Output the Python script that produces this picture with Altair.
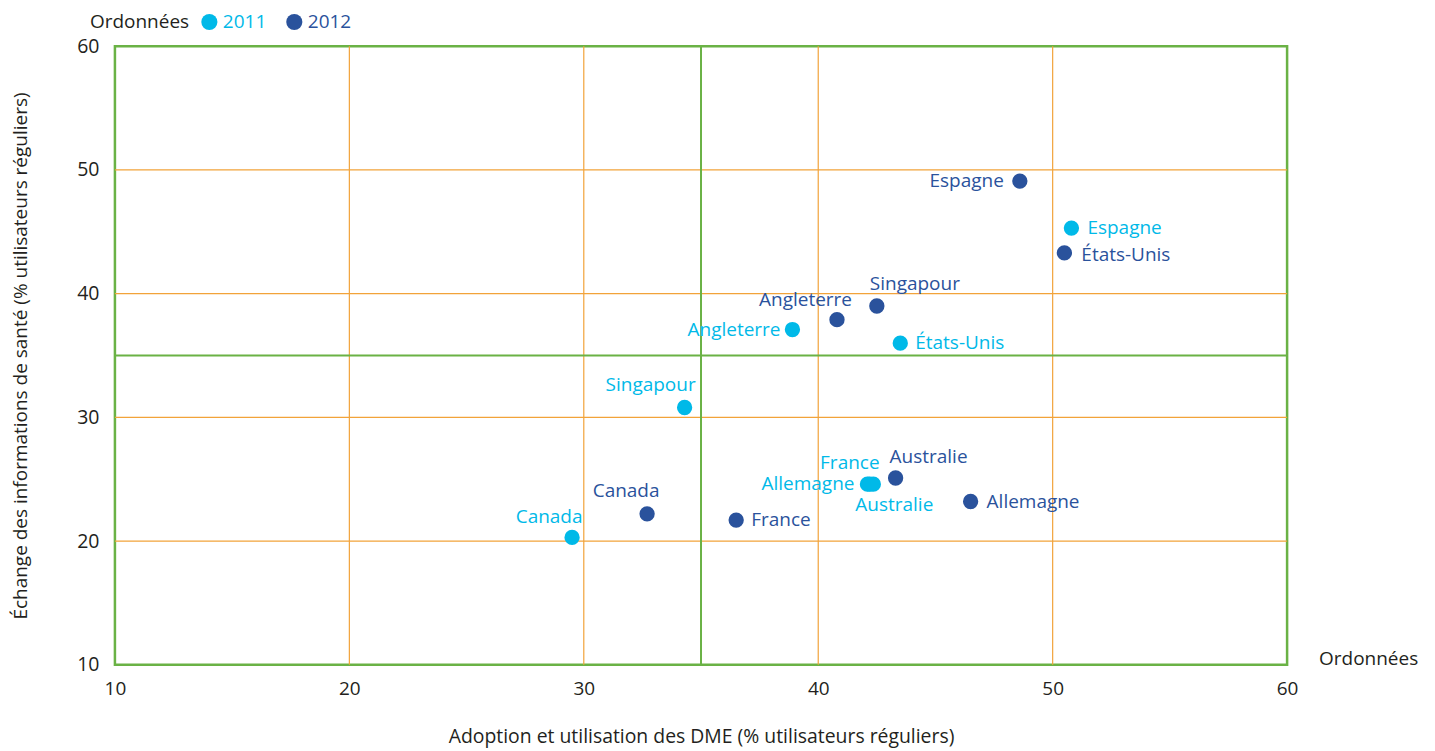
import altair as alt
import pandas as pd

countries = ["Canada", "Singapour", "Angleterre", "États-Unis", "Espagne", "France", "Allemagne", "Australie"]
x_2011 = [29.5, 34.3, 38.9, 43.5, 50.8, 42.2, 42.1, 42.35]
y_2011 = [20.3, 30.8, 37.1, 36.0, 45.3, 24.6, 24.6, 24.6]
x_2012 = [32.7, 42.5, 40.8, 50.5, 48.6, 36.5, 46.5, 43.3]
y_2012 = [22.2, 39.0, 37.9, 43.3, 49.1, 21.7, 23.2, 25.1]
years = ["2011", "2012"]
grid_vals = [20, 30, 40, 50]
split_vals = [35]
tick_vals = [10, 20, 30, 40, 50, 60]

LIGHT = "#00b9e8"
DARK = "#2a529c"
ORANGE = "#f2a33a"
GREEN = "#6ab245"
TXT = "#231f20"
FONT = "Open Sans"

# label placement (layout only): (align, dx, dy)
label_layout = {
    ("Canada", "2011"): ("center", -23, -20),
    ("Singapour", "2011"): ("center", -34, -22),
    ("Angleterre", "2011"): ("right", -12, 0),
    ("États-Unis", "2011"): ("left", 15, 0),
    ("Espagne", "2011"): ("left", 16, 0),
    ("France", "2011"): ("center", -20, -21),
    ("Allemagne", "2011"): ("right", -13, 0),
    ("Australie", "2011"): ("center", 21, 21),
    ("Canada", "2012"): ("center", -21, -23),
    ("Singapour", "2012"): ("left", -7, -22),
    ("Angleterre", "2012"): ("right", 15, -20),
    ("États-Unis", "2012"): ("left", 17, 2),
    ("Espagne", "2012"): ("right", -16, 0),
    ("France", "2012"): ("left", 15, 0),
    ("Allemagne", "2012"): ("left", 16, 1),
    ("Australie", "2012"): ("left", -6, -21),
}

rows = []
for c, xv, yv in zip(countries, x_2011, y_2011):
    rows.append({"pays": c, "annee": "2011", "x": xv, "y": yv})
for c, xv, yv in zip(countries, x_2012, y_2012):
    rows.append({"pays": c, "annee": "2012", "x": xv, "y": yv})
df = pd.DataFrame(rows)

W, H = 1173, 619
xs = alt.Scale(domain=[10, 60], nice=False, zero=False)
ys = alt.Scale(domain=[10, 60], nice=False, zero=False)
cscale = alt.Scale(domain=years, range=[LIGHT, DARK])

grid_df = pd.DataFrame({"v": grid_vals})
split_df = pd.DataFrame({"v": split_vals})

vgrid = alt.Chart(grid_df).mark_rule(color=ORANGE, strokeWidth=1.2).encode(
    x=alt.X("v:Q", scale=xs,
            axis=alt.Axis(values=tick_vals, title="Adoption et utilisation des DME (% utilisateurs réguliers)",
                          grid=False, ticks=False, domain=False, labelPadding=15, labelFontSize=19,
                          labelFlush=False,
                          labelColor=TXT, labelFont=FONT, titleFont=FONT, titleFontSize=19.4,
                          titleFontWeight="normal", titleColor=TXT, titlePadding=29)),
)
hgrid = alt.Chart(grid_df).mark_rule(color=ORANGE, strokeWidth=1.2).encode(
    y=alt.Y("v:Q", scale=ys,
            axis=alt.Axis(values=tick_vals, title="Échange des informations de santé (% utilisateurs réguliers)",
                          grid=False, ticks=False, domain=False, labelPadding=16, labelFontSize=19.5,
                          labelFlush=False,
                          labelColor=TXT, labelFont=FONT, titleFont=FONT, titleFontSize=19,
                          titleFontWeight="normal", titleColor=TXT, titlePadding=46)),
)
vsplit = alt.Chart(split_df).mark_rule(color=GREEN, strokeWidth=2).encode(x=alt.X("v:Q", scale=xs))
hsplit = alt.Chart(split_df).mark_rule(color=GREEN, strokeWidth=2).encode(y=alt.Y("v:Q", scale=ys))

points = alt.Chart(df).mark_circle(size=235, opacity=1).encode(
    x=alt.X("x:Q", scale=xs),
    y=alt.Y("y:Q", scale=ys),
    color=alt.Color("annee:N", scale=cscale,
                    legend=alt.Legend(orient="none", legendX=-25, legendY=-34, direction="horizontal",
                                      title="Ordonnées", titleOrient="left", titleFontSize=19,
                                      titleFont=FONT, titleFontWeight="normal", titleColor=TXT,
                                      titlePadding=10, titleBaseline="middle",
                                      labelFontSize=19, labelFont=FONT,
                                      labelColor=alt.ExprRef(f"datum.label == '2011' ? '{LIGHT}' : '{DARK}'"),
                                      symbolType="circle", symbolSize=260, symbolStrokeWidth=0,
                                      labelOffset=4, columnPadding=18)),
)

label_layers = []
for (c, yr), (al, dx, dy) in label_layout.items():
    label_layers.append(
        alt.Chart(df).transform_filter(
            (alt.datum.pays == c) & (alt.datum.annee == yr)
        ).mark_text(align=al, baseline="middle", dx=dx, dy=dy, fontSize=19, font=FONT).encode(
            x=alt.X("x:Q", scale=xs),
            y=alt.Y("y:Q", scale=ys),
            text="pays:N",
            color=alt.Color("annee:N", scale=cscale, legend=None),
        )
    )

side = alt.Chart(pd.DataFrame({"t": ["Ordonnées"]})).mark_text(
    align="left", baseline="middle", fontSize=19, font=FONT, color=TXT
).encode(text="t:N", x=alt.value(1205), y=alt.value(613))

chart = alt.layer(vgrid, hgrid, vsplit, hsplit, points, *label_layers, side).properties(
    width=W, height=H,
    background="white",
    autosize=alt.AutoSizeParams(type="none"),
    padding={"left": 107, "top": 38, "right": 140, "bottom": 90},
).configure_view(stroke=GREEN, strokeWidth=2.5)

chart.save("out.html", embed_options={"renderer": "svg", "actions": False})
